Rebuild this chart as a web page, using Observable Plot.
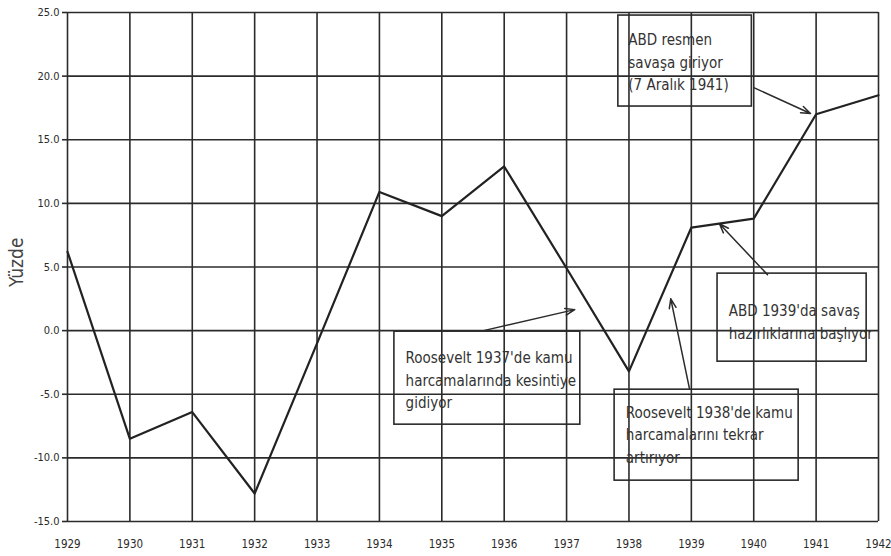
<!DOCTYPE html>
<html>
<head>
<meta charset="utf-8">
<script src="https://cdn.jsdelivr.net/npm/d3@7"></script>
<script src="https://cdn.jsdelivr.net/npm/@observablehq/plot@0.6"></script>
<style>
  html, body { margin: 0; padding: 0; background: #fff; }
  #chart svg { display: block; }
</style>
</head>
<body>
<div id="chart"></div>
<script>
// Series: annual change (%)
const years = [1929, 1930, 1931, 1932, 1933, 1934, 1935, 1936, 1937, 1938, 1939, 1940, 1941, 1942];
const values = [6.2, -8.5, -6.4, -12.8, -1.0, 10.9, 9.0, 12.9, 4.9, -3.2, 8.1, 8.8, 17.0, 18.5];
const yTicks = [-15, -10, -5, 0, 5, 10, 15, 20, 25];
const yLabel = "Yüzde";

// Annotation notes (in data units)
const noteLines = [
  "ABD resmen\nsavaşa giriyor\n(7 Aralık 1941)",
  "Roosevelt 1937'de kamu\nharcamalarında kesintiye\ngidiyor",
  "ABD 1939'da savaş\nhazırlıklarına başlıyor",
  "Roosevelt 1938'de kamu\nharcamalarını tekrar\nartırıyor"
];
const noteTextX = [1937.99, 1934.42, 1939.6, 1937.95];
const noteTextY = [23.7, -1.3, 2.4, -5.6];
const boxX1 = [1937.83, 1934.24, 1939.42, 1937.77];
const boxX2 = [1939.97, 1937.22, 1941.81, 1940.72];
const boxY1 = [24.76, -0.08, 4.48, -4.64];
const boxY2 = [17.61, -7.39, -2.44, -11.79];
const arrowX1 = [1940.0, 1935.67, 1940.22, 1938.97];
const arrowY1 = [19.1, 0.0, 4.4, -4.56];
const arrowX2 = [1940.91, 1937.13, 1939.45, 1938.67];
const arrowY2 = [17.06, 1.65, 8.4, 2.5];

const series = years.map((y, i) => ({year: y, value: values[i]}));
const notes = noteLines.map((t, i) => ({
  text: t, tx: noteTextX[i], ty: noteTextY[i],
  x1: boxX1[i], x2: boxX2[i], y1: boxY1[i], y2: boxY2[i],
  ax1: arrowX1[i], ay1: arrowY1[i], ax2: arrowX2[i], ay2: arrowY2[i]
}));

const condensed = "'Liberation Sans Narrow', 'DejaVu Sans Condensed', 'Roboto Condensed', sans-serif";
const ink = "#2b2b2b";

const chart = Plot.plot({
  width: 891,
  height: 556,
  marginLeft: 67,
  marginRight: 13,
  marginTop: 12,
  marginBottom: 35,
  style: {fontFamily: condensed, color: ink, background: "#fff"},
  x: {domain: [1929, 1942]},
  y: {domain: [-15, 25]},
  marks: [
    Plot.ruleX(years, {stroke: ink, strokeWidth: 1.6, strokeOpacity: 1}),
    Plot.ruleY(yTicks, {stroke: ink, strokeWidth: 1.6, strokeOpacity: 1}),
    Plot.axisY({ticks: yTicks, tickFormat: d => d.toFixed(1), tickSize: 5, tickPadding: 3, label: null, fontSize: 11, stroke: ink, strokeWidth: 1.6}),
    Plot.axisX({ticks: years, tickFormat: d => String(d), tickSize: 0, tickPadding: 18, label: null, fontSize: 11.5}),
    Plot.text([yLabel], {frameAnchor: "left", rotate: -90, dx: -51, dy: 20, fontSize: 19, fontFamily: "'DejaVu Sans Condensed', sans-serif", fill: "#444"}),
    Plot.rect(notes, {x1: "x1", x2: "x2", y1: "y1", y2: "y2", fill: "none", stroke: ink, strokeWidth: 1.6}),
    Plot.text(notes, {x: "tx", y: "ty", text: "text", textAnchor: "start", lineAnchor: "top", lineHeight: 1.5, fontSize: 15, fill: "#333"}),
    Plot.arrow(notes, {x1: "ax1", y1: "ay1", x2: "ax2", y2: "ay2", stroke: ink, strokeWidth: 1.5, headLength: 10, headAngle: 40}),
    Plot.line(series, {x: "year", y: "value", stroke: "#222", strokeWidth: 2.2})
  ]
});
document.getElementById("chart").appendChild(chart);
</script>
</body>
</html>
